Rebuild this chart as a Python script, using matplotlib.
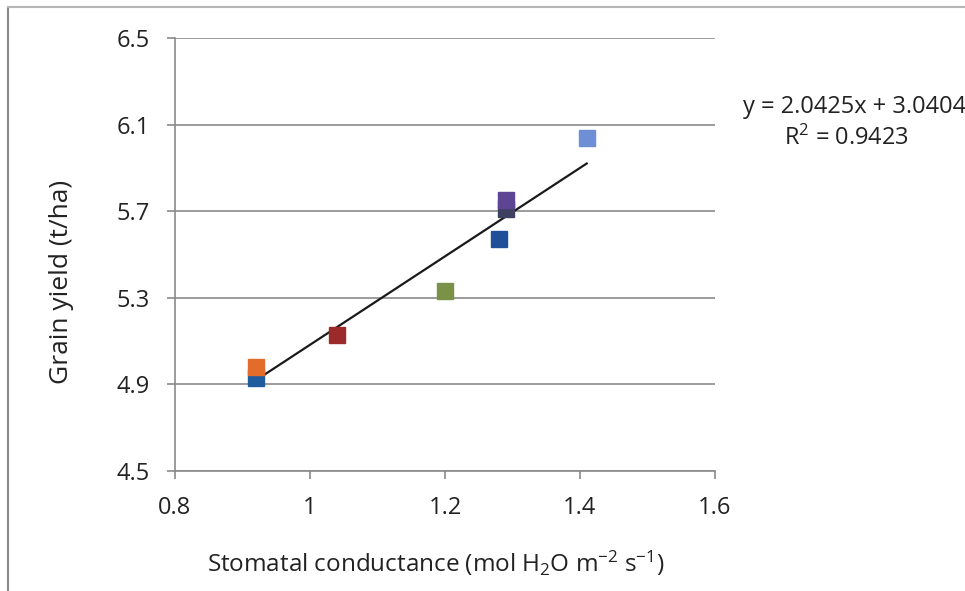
import matplotlib.pyplot as plt
import numpy as np
from matplotlib.lines import Line2D

plt.rcParams['font.family'] = ['Open Sans', 'DejaVu Sans']
plt.rcParams['mathtext.fontset'] = 'custom'
plt.rcParams['mathtext.rm'] = 'Open Sans'
plt.rcParams['mathtext.it'] = 'Open Sans:italic'

# conductance (mol H2O m-2 s-1) and yield (t/ha)
cond = [0.92, 0.92, 1.04, 1.20, 1.28, 1.29, 1.29, 1.41]
yld = [4.93, 4.98, 5.13, 5.33, 5.57, 5.71, 5.75, 6.04]
colors = ['#1F5C9E', '#E46C2A', '#9B2B2B', '#7A9148', '#1F4F99', '#3F3F5F', '#5E4593', '#6E8FD6']

slope, intercept = 2.0425, 3.0404
r2 = 0.9423

fig = plt.figure(figsize=(9.65, 5.91), dpi=100)
ax = fig.add_axes([0.1813, 0.203, 0.5596, 0.7327])

# outer chart frame (left and top edges only visible)
fig.add_artist(Line2D([0.0083, 0.0083], [0.0, 0.988], color='#8a8a8a', lw=1.5))
fig.add_artist(Line2D([0.0083, 1.0], [0.988, 0.988], color='#b5b5b5', lw=1.5))

ax.set_xlim(0.8, 1.6)
ax.set_ylim(4.5, 6.5)
ax.set_xticks(np.arange(0.8, 1.61, 0.2))
ax.set_xticklabels(['0.8', '1', '1.2', '1.4', '1.6'])
ax.set_yticks(np.arange(4.5, 6.51, 0.4))
ax.set_yticklabels(['4.5', '4.9', '5.3', '5.7', '6.1', '6.5'])

ax.grid(axis='y', color='#8a8a8a', lw=1.2)
ax.set_axisbelow(True)
for s in ['top', 'right']:
    ax.spines[s].set_visible(False)
for s in ['left', 'bottom']:
    ax.spines[s].set_color('#8a8a8a')
    ax.spines[s].set_linewidth(1.2)
ax.tick_params(axis='both', colors='#8a8a8a', labelcolor='#222222',
               labelsize=17, length=6, width=1.2)
ax.tick_params(axis='x', pad=12)
ax.tick_params(axis='y', pad=12)

xs = np.array([min(cond), max(cond)])
ax.plot(xs, slope * xs + intercept, color='#1a1a1a', lw=1.6, zorder=3)

for x, y, c in zip(cond, yld, colors):
    ax.plot(x, y, marker='s', ms=12, color=c, mec=c, ls='none', zorder=4)

fig.text(0.451, 0.047, 'Stomatal conductance (mol H$_2$O m$^{-2}$ s$^{-1}$)', fontsize=17.5,
         color='#222222', ha='center', va='center')
fig.text(0.064, 0.523, 'Grain yield (t/ha)', fontsize=19, color='#222222',
         rotation=90, ha='center', va='center')

fig.text(0.770, 0.819, 'y = 2.0425x + 3.0404', fontsize=17, ha='left', va='center', color='#222222')
fig.text(0.877, 0.766, 'R$^2$ = %.4f' % r2, fontsize=17, ha='center', va='center', color='#222222')

fig.savefig('out.png', dpi=100)
